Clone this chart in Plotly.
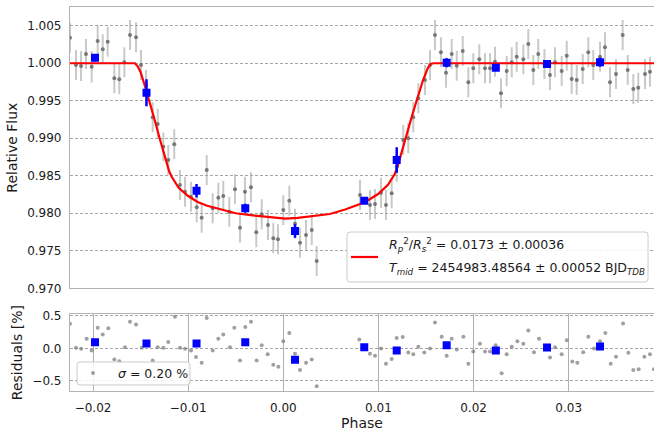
import plotly.graph_objects as go

# ---------------- data ----------------
phase = [-0.02242, -0.02179, -0.02126, -0.02074, -0.02014, -0.01951, -0.01898, -0.01846, -0.01776, -0.01724,
         -0.01671, -0.01611, -0.01548, -0.01496, -0.01443, -0.01373, -0.01320, -0.01261, -0.01209, -0.01146,
         -0.01086, -0.01033, -0.00970, -0.00910, -0.00858, -0.00805, -0.00742, -0.00683, -0.00631, -0.00568,
         -0.00508, -0.00455, -0.00403, -0.00340, -0.00284, -0.00227, -0.00161, -0.00105, -0.00056, 0.00000,
         0.00063, 0.00123, 0.00176, 0.00239, 0.00299, 0.00351, 0.00806, 0.00911, 0.00964, 0.01027,
         0.01079, 0.01139, 0.01192, 0.01261, 0.01314, 0.01366, 0.01419, 0.01489, 0.01542, 0.01594,
         0.01657, 0.01710, 0.01770, 0.01823, 0.01886, 0.01945, 0.01997, 0.02060, 0.02120, 0.02173,
         0.02225, 0.02288, 0.02348, 0.02401, 0.02453, 0.02523, 0.02575, 0.02628, 0.02680, 0.02745,
         0.02803, 0.02856, 0.02926, 0.02979, 0.03031, 0.03084, 0.03147, 0.03206, 0.03258, 0.03329,
         0.03381, 0.03434, 0.03497, 0.03567, 0.03620, 0.03679, 0.03731, 0.03802, 0.03854]
flux = [1.00341, 0.99977, 0.99964, 1.00124, 0.99955, 1.00297, 1.00187, 1.00288, 0.99800, 0.99787,
        1.00013, 1.00377, 1.00347, 0.99977, 0.99710, 0.99280, 0.99191, 0.98888, 0.98711, 0.98920,
        0.98377, 0.98288, 0.98221, 0.98080, 0.97941, 0.98577, 0.98067, 0.98208, 0.98230, 0.98021,
        0.98320, 0.97808, 0.98288, 0.98347, 0.97747, 0.97987, 0.97844, 0.97667, 0.97653, 0.98044,
        0.98168, 0.97860, 0.97608, 0.97711, 0.97777, 0.97364, 0.98244, 0.98111, 0.98124, 0.98275,
        0.98111, 0.98267, 0.98620, 0.98977, 0.99000, 0.99280, 0.99533, 0.99777, 0.99977, 1.00377,
        1.00147, 0.99875, 1.00124, 0.99968, 1.00164, 0.99747, 0.99933, 1.00053, 0.99933, 0.99933,
        1.00021, 0.99600, 0.99897, 1.00013, 1.00088, 1.00053, 1.00257, 0.99911, 1.00124, 0.99990,
        0.99844, 1.00013, 0.99897, 1.00101, 0.99790, 0.99777, 0.99924, 1.00147, 0.99977, 1.00088,
        1.00213, 0.99747, 0.99857, 1.00377, 0.99911, 0.99657, 0.99675, 0.99857, 0.99888]
flux_err = [0.0020, 0.0020, 0.0020, 0.0020, 0.0021, 0.0021, 0.0020, 0.0020, 0.0020, 0.0020,
            0.0020, 0.0020, 0.0020, 0.0020, 0.0020, 0.0020, 0.0020, 0.0019, 0.0020, 0.0020,
            0.0020, 0.0020, 0.0020, 0.0020, 0.0020, 0.0020, 0.0020, 0.0020, 0.0020, 0.0020,
            0.0020, 0.0020, 0.0020, 0.0020, 0.0020, 0.0020, 0.0020, 0.0020, 0.0020, 0.0020,
            0.0020, 0.0020, 0.0020, 0.0020, 0.0020, 0.0020, 0.0020, 0.0020, 0.0020, 0.0020,
            0.0020, 0.0020, 0.0020, 0.0020, 0.0020, 0.0020, 0.0020, 0.0020, 0.0020, 0.0020,
            0.0020, 0.0020, 0.0020, 0.0020, 0.0020, 0.0020, 0.0020, 0.0020, 0.0020, 0.0020,
            0.0020, 0.0020, 0.0020, 0.0020, 0.0020, 0.0020, 0.0020, 0.0020, 0.0020, 0.0020,
            0.0020, 0.0020, 0.0020, 0.0020, 0.0020, 0.0020, 0.0020, 0.0020, 0.0020, 0.0020,
            0.0020, 0.0020, 0.0020, 0.0020, 0.0020, 0.0020, 0.0020, 0.0020, 0.0020]

bin_phase = [-0.01979, -0.01438, -0.00912, -0.00400, 0.00123, 0.00851, 0.01192, 0.01717, 0.02234, 0.02772, 0.03329]
bin_flux = [1.00075, 0.99608, 0.98301, 0.98067, 0.97764, 0.98168, 0.98711, 1.00008, 0.99941, 0.99991, 1.00013]
bin_err = [0.0005, 0.0018, 0.0009, 0.0006, 0.0009, 0.0004, 0.0017, 0.0006, 0.0003, 0.0003, 0.0006]
bin_res = [0.097, 0.077, 0.077, 0.097, -0.174, 0.020, -0.031, 0.051, -0.031, 0.015, 0.031]

model_phase = [-0.0225, -0.0156, -0.0153, -0.0150, -0.0146, -0.0142, -0.0136, -0.0130, -0.0124, -0.0120,
               -0.0117, -0.0110, -0.0100, -0.0090, -0.0080, -0.0067, -0.0050, -0.0030, -0.0010, 0.0002,
               0.0015, 0.0030, 0.0049, 0.0065, 0.0080, 0.0090, 0.0100, 0.0110, 0.0117, 0.0120,
               0.0126, 0.0136, 0.0147, 0.0152, 0.0155, 0.0158, 0.0390]
model_flux = [1.0000, 1.0000, 0.9996, 0.9988, 0.9972, 0.9955, 0.9928, 0.9900, 0.9872, 0.9856,
              0.9848, 0.9834, 0.9823, 0.9815, 0.9810, 0.9806, 0.9800, 0.9797, 0.9794, 0.9793,
              0.9794, 0.9796, 0.9799, 0.9805, 0.9812, 0.9818, 0.9826, 0.9838, 0.9852, 0.9862,
              0.9890, 0.9933, 0.9978, 0.9994, 0.9999, 1.0000, 1.0000]

res_phase = [-0.02242, -0.02179, -0.02126, -0.02067, -0.02014, -0.01951, -0.01898, -0.01839, -0.01776, -0.01724,
             -0.01664, -0.01611, -0.01548, -0.01488, -0.01373, -0.01320, -0.01261, -0.01209, -0.01139, -0.01086,
             -0.01033, -0.00970, -0.00918, -0.00858, -0.00805, -0.00742, -0.00683, -0.00631, -0.00561, -0.00515,
             -0.00455, -0.00399, -0.00340, -0.00280, -0.00227, -0.00164, -0.00105, -0.00052, 0.00000, 0.00063,
             0.00123, 0.00176, 0.00239, 0.00299, 0.00351, 0.00799, 0.00911, 0.00964, 0.01027, 0.01079,
             0.01139, 0.01192, 0.01255, 0.01314, 0.01366, 0.01419, 0.01482, 0.01542, 0.01594, 0.01665,
             0.01717, 0.01770, 0.01823, 0.01893, 0.01945, 0.01997, 0.02067, 0.02120, 0.02173, 0.02232,
             0.02295, 0.02348, 0.02401, 0.02460, 0.02523, 0.02575, 0.02635, 0.02688, 0.02772, 0.02803,
             0.02856, 0.02926, 0.02979, 0.03038, 0.03090, 0.03153, 0.03206, 0.03266, 0.03329, 0.03385,
             0.03441, 0.03497, 0.03571, 0.03627, 0.03679, 0.03735, 0.03795, 0.03854, 0.03896]
res_val = [0.38, 0.01, -0.005, 0.15, -0.03, 0.32, 0.215, 0.31, -0.17, -0.195,
           0.02, 0.41, 0.37, 0.01, -0.185, 0.02, 0.01, 0.10, 0.49, 0.01,
           -0.005, -0.03, -0.13, -0.22, 0.47, -0.03, 0.15, 0.215, 0.02, 0.32,
           -0.185, 0.33, 0.41, -0.185, 0.05, -0.09, -0.25, -0.28, 0.11, 0.24,
           -0.08, -0.33, -0.22, -0.17, -0.58, 0.14, -0.08, -0.11, 0.00, -0.235,
           -0.16, 0.16, 0.175, -0.06, -0.09, 0.025, -0.06, 0.00, 0.40, 0.18,
           -0.11, 0.15, -0.015, 0.18, -0.235, -0.046, 0.072, -0.046, -0.046, 0.05,
           -0.38, -0.09, 0.025, 0.11, 0.072, 0.277, -0.057, 0.15, 0.015, -0.14,
           0.02, -0.09, 0.128, -0.20, -0.22, -0.057, 0.18, 0.00, 0.11, 0.24,
           -0.235, -0.128, 0.385, -0.066, -0.33, -0.32, -0.128, -0.09, -0.32]

flux_ticks = [0.970, 0.975, 0.980, 0.985, 0.990, 0.995, 1.000, 1.005]
phase_ticks = [-0.02, -0.01, 0.00, 0.01, 0.02, 0.03]
res_ticks = [-0.5, 0.0, 0.5]

legend_fit = ("<i>R</i><sub><i>p</i></sub><sup>2</sup>/<i>R</i><sub><i>s</i></sub><sup>2</sup>"
              " = 0.0173 ± 0.00036")
legend_tmid = ("<i>T</i><sub><i>mid</i></sub> = 2454983.48564 ± 0.00052 BJD<sub><i>TDB</i></sub>")
legend_sigma = "<i>σ</i> = 0.20 %"

# ---------------- figure ----------------
W, H = 654, 435
ML, MR, MT, MB = 70, 0, 7, 44
PW, PH = W - ML - MR, H - MT - MB

def px(x):
    return (x - ML) / PW

def py(y):
    return (H - MB - y) / PH

FONT = "DejaVu Sans"
fig = go.Figure()

fig.add_trace(go.Scatter(
    x=phase, y=flux, mode="markers", xaxis="x", yaxis="y", showlegend=False,
    marker=dict(color="rgba(95,95,95,0.8)", size=4),
    error_y=dict(type="data", array=flux_err, color="rgba(160,168,160,0.6)", thickness=2, width=0)))
fig.add_trace(go.Scatter(
    x=model_phase, y=model_flux, mode="lines", xaxis="x", yaxis="y", showlegend=False,
    line=dict(color="#ff0000", width=2.2)))
fig.add_trace(go.Scatter(
    x=bin_phase, y=bin_flux, mode="markers", xaxis="x", yaxis="y", showlegend=False,
    marker=dict(color="#0000ff", size=8, symbol="square"),
    error_y=dict(type="data", array=bin_err, color="#0000ff", thickness=2.5, width=0)))

fig.add_trace(go.Scatter(
    x=res_phase, y=res_val, mode="markers", xaxis="x2", yaxis="y2", showlegend=False,
    marker=dict(color="rgba(120,120,120,0.7)", size=4)))
fig.add_trace(go.Scatter(
    x=bin_phase, y=bin_res, mode="markers", xaxis="x2", yaxis="y2", showlegend=False,
    marker=dict(color="#0000ff", size=8, symbol="square")))

xr = [-0.02242, -0.02242 + PW / 9514.0]
spine = "#b3b3b3"
gridc = "#a6a6a6"
tickfont = dict(family=FONT, size=12, color="#1a1a1a")

fig.update_layout(
    width=W, height=H, margin=dict(l=ML, r=MR, t=MT, b=MB),
    paper_bgcolor="white", plot_bgcolor="white",
    font=dict(family=FONT, color="#1a1a1a"),
    xaxis=dict(domain=[0, 1], anchor="y", range=xr, showticklabels=False, showgrid=False,
               zeroline=False, showline=True, mirror=True, linecolor=spine, linewidth=1.2,
               ticks="", tickvals=phase_ticks),
    yaxis=dict(domain=[py(288.3), 1], anchor="x", range=[0.970, 1.0075], tickvals=flux_ticks,
               tickformat=".3f", showgrid=True, gridcolor=gridc, griddash="3px,2px", gridwidth=0.8,
               zeroline=False, showline=True, linecolor=spine, linewidth=1.2,
               ticks="outside", ticklen=5, tickcolor="rgba(0,0,0,0)", tickfont=tickfont,
               title=dict(text="Relative Flux", font=dict(family=FONT, size=14), standoff=6)),
    xaxis2=dict(domain=[0, 1], anchor="y2", range=xr, tickvals=phase_ticks, tickformat=".2f",
                showgrid=True, gridcolor="#b0b0b0", gridwidth=1, zeroline=False,
                showline=True, mirror=True, linecolor=spine, linewidth=1.2,
                ticks="outside", ticklen=5, tickcolor="rgba(0,0,0,0)", tickfont=tickfont,
                title=dict(text="Phase", font=dict(family=FONT, size=14), standoff=4)),
    yaxis2=dict(domain=[0, py(314.3)], anchor="x2", range=[-0.654, 0.526], tickvals=res_ticks,
                tickformat=".1f", showgrid=True, gridcolor=gridc, griddash="3px,2px", gridwidth=0.8,
                zeroline=False, showline=True, linecolor=spine, linewidth=1.2,
                ticks="outside", ticklen=5, tickcolor="rgba(0,0,0,0)", tickfont=tickfont,
                title=dict(text="Residuals [%]", font=dict(family=FONT, size=14), standoff=6)),
)

def rounded_box(x0, y0, x1, y1, r=3):
    rx, ry = r / PW, r / PH
    X0, X1 = px(x0), px(x1)
    Yt, Yb = py(y0), py(y1)
    return (f"M {X0+rx},{Yt} L {X1-rx},{Yt} Q {X1},{Yt} {X1},{Yt-ry} "
            f"L {X1},{Yb+ry} Q {X1},{Yb} {X1-rx},{Yb} L {X0+rx},{Yb} "
            f"Q {X0},{Yb} {X0},{Yb+ry} L {X0},{Yt-ry} Q {X0},{Yt} {X0+rx},{Yt} Z")

shapes = [
    dict(type="path", xref="paper", yref="paper", path=rounded_box(347, 232, 648, 282),
         fillcolor="rgba(255,255,255,0.85)", line=dict(color="#cccccc", width=1), layer="above"),
    dict(type="line", xref="paper", yref="paper", x0=px(351), x1=px(378), y0=py(257), y1=py(257),
         line=dict(color="#ff0000", width=2.2), layer="above"),
    dict(type="path", xref="paper", yref="paper", path=rounded_box(77, 362, 190, 385),
         fillcolor="rgba(255,255,255,0.85)", line=dict(color="#cccccc", width=1), layer="above"),
    dict(type="circle", xref="paper", yref="paper", xsizemode="pixel", ysizemode="pixel",
         xanchor=px(93), yanchor=py(373), x0=-2, x1=2, y0=-2, y1=2,
         fillcolor="rgba(120,120,120,0.7)", line=dict(width=0), layer="above"),
]
annotations = [
    dict(text=legend_fit, xref="paper", yref="paper", x=px(387), y=py(245), xanchor="left",
         yanchor="middle", showarrow=False, font=dict(family=FONT, size=12.5, color="#1a1a1a")),
    dict(text=legend_tmid, xref="paper", yref="paper", x=px(387), y=py(268), xanchor="left",
         yanchor="middle", showarrow=False, font=dict(family=FONT, size=12.5, color="#1a1a1a")),
    dict(text=legend_sigma, xref="paper", yref="paper", x=px(116), y=py(373.5), xanchor="left",
         yanchor="middle", showarrow=False, font=dict(family=FONT, size=12.5, color="#1a1a1a")),
]
fig.update_layout(shapes=shapes, annotations=annotations)

fig.write_html("out.html")
